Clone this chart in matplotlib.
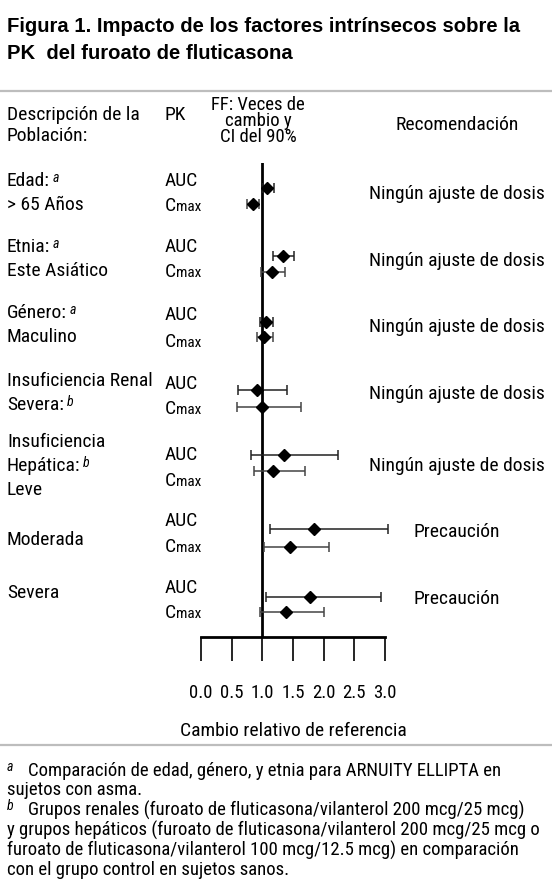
import matplotlib
matplotlib.use('Agg')
import matplotlib.pyplot as plt
import numpy as np

# Datos del grafico (veces de cambio y IC 90%)
auc_est = [1.08, 1.34, 1.06, 0.92, 1.35, 1.85, 1.78]
auc_lo = [1.01, 1.18, 0.96, 0.60, 0.82, 1.13, 1.06]
auc_hi = [1.19, 1.51, 1.17, 1.41, 2.24, 3.05, 2.94]
cmax_est = [0.84, 1.16, 1.03, 0.99, 1.18, 1.45, 1.38]
cmax_lo = [0.75, 0.98, 0.91, 0.58, 0.86, 1.03, 0.97]
cmax_hi = [0.95, 1.37, 1.17, 1.63, 1.70, 2.08, 2.01]

recomendaciones = ['Ningún ajuste de dosis'] * 5 + ['Precaución'] * 2
x_ticks = [0.0, 0.5, 1.0, 1.5, 2.0, 2.5, 3.0]
x_tick_labels = ['0.0', '0.5', '1.0', '1.5', '2.0', '2.5', '3.0']

# Etiquetas de la poblacion: (texto, superindice)
poblacion = [
    [('Edad:', 'a'), ('> 65 Años', '')],
    [('Etnia:', 'a'), ('Este Asiático', '')],
    [('Género:', 'a'), ('Maculino', '')],
    [('Insuficiencia Renal', ''), ('Severa:', 'b')],
    [('Insuficiencia', ''), ('Hepática:', 'b'), ('Leve', '')],
    [('Moderada', '')],
    [('Severa', '')],
]

# Posiciones (pixeles desde arriba)
W, H = 552, 893
auc_y = [187.7, 255.7, 322.3, 390, 455, 529.3, 596.7]
cmax_y = [204, 272.3, 337.3, 406.7, 471, 546.7, 612.3]
auc_lbl_y = [181, 247, 315, 384, 455, 521, 588]
cmax_lbl_y = [206, 272, 342, 409, 481, 547, 613]
pob_y = [[181, 205], [247, 271], [313, 337], [381, 405], [442, 466, 490], [540], [593]]
rec_y = [194, 261, 327, 394, 466, 532, 599]

FONT = ['Roboto Condensed', 'DejaVu Sans']
TITLE_FONT = ['Liberation Sans', 'DejaVu Sans']
plt.rcParams['font.family'] = FONT

fig = plt.figure(figsize=(W / 100, H / 100), dpi=100)


def fx(x):
    return x / W


def fy(y):
    return 1 - y / H


def txt(x, y, s, size=14, **kw):
    kw.setdefault('va', 'center')
    return fig.text(fx(x), fy(y), s, fontsize=size, **kw)


def sup(t, s, size=10):
    # superindice en cursiva detras de un texto
    return plt.annotate(s, xy=(1, 1), xycoords=t, xytext=(2, 1), textcoords='offset points',
                        fontsize=size, style='italic', va='top', ha='left', annotation_clip=False)


# Titulo
txt(7, 32, 'Figura 1. Impacto de los factores intrínsecos sobre la', size=14.6,
    family=TITLE_FONT, weight='bold', va='baseline')
txt(7, 59, 'PK  del furoato de fluticasona', size=14.6, family=TITLE_FONT, weight='bold',
    va='baseline')

# Lineas grises
fig.add_artist(plt.Line2D([0, 1], [fy(91), fy(91)], color='#bdbdbd', lw=1.6))
fig.add_artist(plt.Line2D([0, 1], [fy(745), fy(745)], color='#bdbdbd', lw=1.6))

# Encabezados
txt(7, 115, 'Descripción de la')
txt(7, 136, 'Población:')
txt(165, 115, 'PK')
txt(258, 121, 'FF: Veces de\ncambio y\nCI del 90%', size=13.5, ha='center',
    multialignment='center', linespacing=0.85)
txt(457, 125, 'Recomendación', ha='center')

# Eje del forest plot
ax = fig.add_axes([fx(201), fy(637), fx(385) - fx(201), (637 - 163) / H])
ax.set_xlim(0, 3)
ax.set_ylim(637, 163)
ax.patch.set_alpha(0)
for s in ['top', 'right', 'left']:
    ax.spines[s].set_visible(False)
ax.spines['bottom'].set_linewidth(2)
ax.set_yticks([])
ax.set_xticks(x_ticks)
ax.set_xticklabels(x_tick_labels, fontsize=13.5)
ax.tick_params(axis='x', direction='out', length=17, width=1.2, pad=17)
ax.set_xlabel('Cambio relativo de referencia', fontsize=14, labelpad=14)
ax.axvline(1.0, color='black', lw=2, zorder=1)

auc_err = [np.array(auc_est) - np.array(auc_lo), np.array(auc_hi) - np.array(auc_est)]
cmax_err = [np.array(cmax_est) - np.array(cmax_lo), np.array(cmax_hi) - np.array(cmax_est)]
ax.errorbar(auc_est, auc_y, xerr=auc_err, fmt='D', color='black', ms=6, ecolor='#222222',
            elinewidth=1.1, capsize=3.5, capthick=1.1, clip_on=False, zorder=3)
ax.errorbar(cmax_est, cmax_y, xerr=cmax_err, fmt='D', color='black', ms=6, ecolor='#444444',
            elinewidth=1.1, capsize=3.5, capthick=1.1, clip_on=False, zorder=3)

# Columna de poblacion, PK y recomendacion
for i, grupo in enumerate(poblacion):
    for (s, sp), y in zip(grupo, pob_y[i]):
        t = txt(7, y, s)
        if sp:
            sup(t, sp)
    txt(165, auc_lbl_y[i], 'AUC')
    c = txt(165, cmax_lbl_y[i], 'C')
    plt.annotate('max', xy=(1, 0), xycoords=c, xytext=(0, 1), textcoords='offset points',
                 fontsize=11, va='bottom', ha='left', annotation_clip=False)
    txt(457, rec_y[i], recomendaciones[i], ha='center')

# Notas al pie
FN = 13.5
txt(7, 767, 'a', size=10, style='italic')
txt(28, 771, 'Comparación de edad, género, y etnia para ARNUITY ELLIPTA en', size=FN)
txt(7, 790, 'sujetos con asma.', size=FN)
txt(7, 806, 'b', size=10, style='italic')
txt(28, 810, 'Grupos renales (furoato de fluticasona/vilanterol 200 mcg/25 mcg)', size=FN)
txt(7, 830, 'y grupos hepáticos (furoato de fluticasona/vilanterol 200 mcg/25 mcg o', size=FN)
txt(7, 850, 'furoato de fluticasona/vilanterol 100 mcg/12.5 mcg) en comparación', size=FN)
txt(7, 870, 'con el grupo control en sujetos sanos.', size=FN)

fig.savefig('out.png', dpi=100)
